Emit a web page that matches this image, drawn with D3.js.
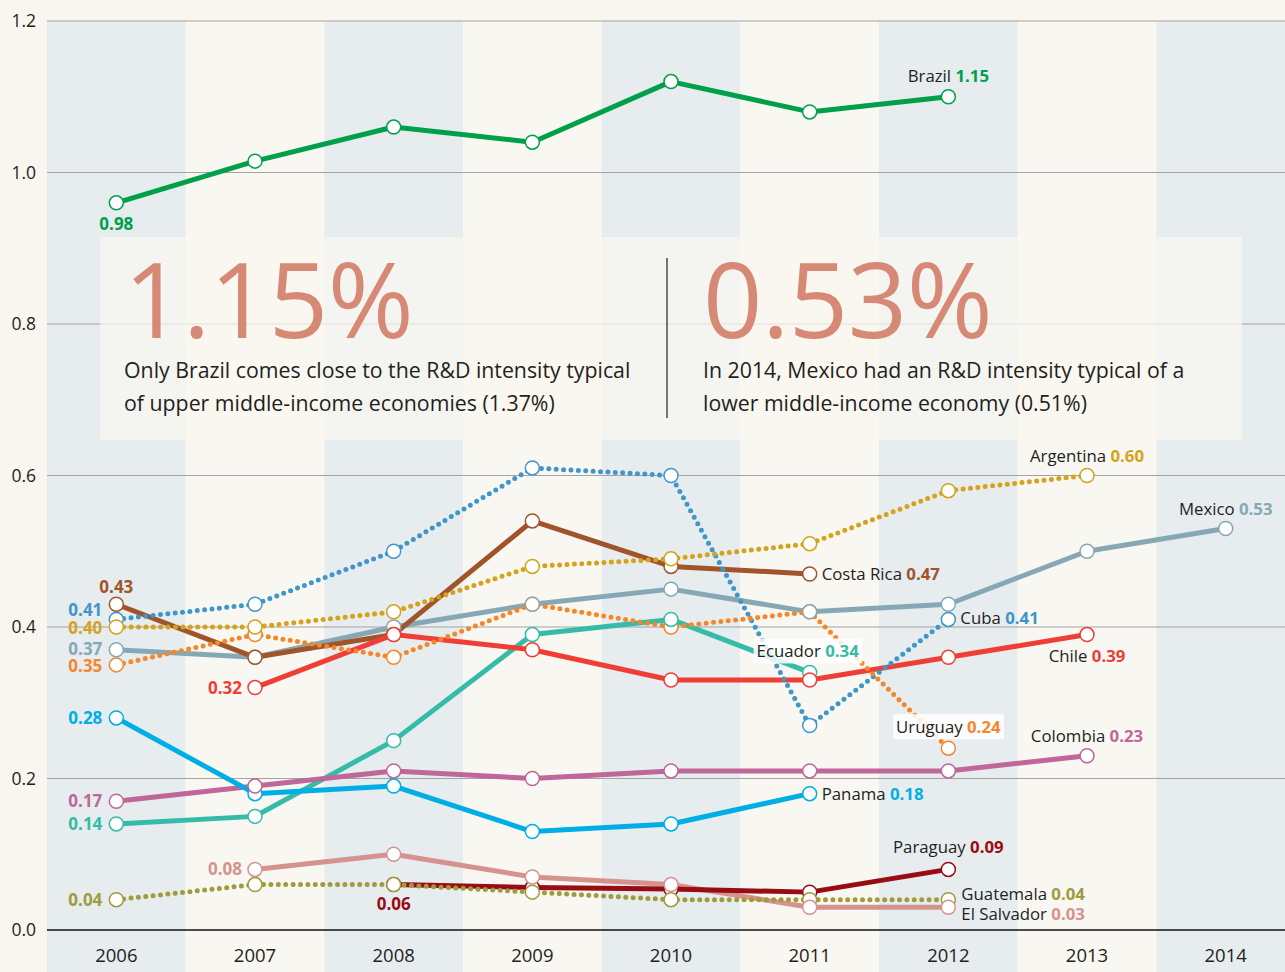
<!DOCTYPE html>
<html>
<head>
<meta charset="utf-8">
<script src="https://cdn.jsdelivr.net/npm/d3@7"></script>
<style>
  html, body { margin: 0; padding: 0; background: #f9f6ef; }
  svg { display: block; font-family: "Open Sans", "Noto Sans", sans-serif; }
</style>
</head>
<body>
<svg id="chart" width="1285" height="972"></svg>
<script>
// ---------- DATA ----------
const years = [2006, 2007, 2008, 2009, 2010, 2011, 2012, 2013, 2014];
const yTicks = [0.0, 0.2, 0.4, 0.6, 0.8, 1.0, 1.2];

const brazil     = [[2006,0.96],[2007,1.015],[2008,1.06],[2009,1.04],[2010,1.12],[2011,1.08],[2012,1.10]];
const cuba       = [[2006,0.41],[2007,0.43],[2008,0.50],[2009,0.61],[2010,0.60],[2011,0.27],[2012,0.41]];
const argentina  = [[2006,0.40],[2007,0.40],[2008,0.42],[2009,0.48],[2010,0.49],[2011,0.51],[2012,0.58],[2013,0.60]];
const uruguay    = [[2006,0.35],[2007,0.39],[2008,0.36],[2009,0.43],[2010,0.40],[2011,0.42],[2012,0.24]];
const costaRica  = [[2006,0.43],[2007,0.36],[2008,0.39],[2009,0.54],[2010,0.48],[2011,0.47]];
const mexico     = [[2006,0.37],[2007,0.36],[2008,0.40],[2009,0.43],[2010,0.45],[2011,0.42],[2012,0.43],[2013,0.50],[2014,0.53]];
const chile      = [[2007,0.32],[2008,0.39],[2009,0.37],[2010,0.33],[2011,0.33],[2012,0.36],[2013,0.39]];
const ecuador    = [[2006,0.14],[2007,0.15],[2008,0.25],[2009,0.39],[2010,0.41],[2011,0.34]];
const panama     = [[2006,0.28],[2007,0.18],[2008,0.19],[2009,0.13],[2010,0.14],[2011,0.18]];
const colombia   = [[2006,0.17],[2007,0.19],[2008,0.21],[2009,0.20],[2010,0.21],[2011,0.21],[2012,0.21],[2013,0.23]];
const elSalvador = [[2007,0.08],[2008,0.10],[2009,0.07],[2010,0.06],[2011,0.03],[2012,0.03]];
const paraguay   = [[2008,0.06],[2009,0.056],[2010,0.054],[2011,0.05],[2012,0.08]];
const guatemala  = [[2006,0.04],[2007,0.06],[2008,0.06],[2009,0.05],[2010,0.04],[2011,0.04],[2012,0.04]];

const series = [
  {name:"Brazil",      values:brazil,     color:"#00a04a", dotted:false, label:"1.15"},
  {name:"Cuba",        values:cuba,       color:"#3f96c9", dotted:true,  label:"0.41"},
  {name:"Argentina",   values:argentina,  color:"#d4a21b", dotted:true,  label:"0.60"},
  {name:"Uruguay",     values:uruguay,    color:"#f5872a", dotted:true,  label:"0.24"},
  {name:"Costa Rica",  values:costaRica,  color:"#a0542a", dotted:false, label:"0.47"},
  {name:"Mexico",      values:mexico,     color:"#86a8b5", dotted:false, label:"0.53"},
  {name:"Chile",       values:chile,      color:"#ef3e36", dotted:false, label:"0.39"},
  {name:"Ecuador",     values:ecuador,    color:"#35bca8", dotted:false, label:"0.34"},
  {name:"Panama",      values:panama,     color:"#00aee6", dotted:false, label:"0.18"},
  {name:"Colombia",    values:colombia,   color:"#be6798", dotted:false, label:"0.23"},
  {name:"El Salvador", values:elSalvador, color:"#d5928e", dotted:false, label:"0.03"},
  {name:"Paraguay",    values:paraguay,   color:"#990c14", dotted:false, label:"0.09"},
  {name:"Guatemala",   values:guatemala,  color:"#9e9c3c", dotted:true,  label:"0.04"}
];
// start-value labels shown in the chart
const startLabels = [
  ["Brazil","0.98"],["Costa Rica","0.43"],["Cuba","0.41"],["Argentina","0.40"],["Mexico","0.37"],
  ["Uruguay","0.35"],["Chile","0.32"],["Panama","0.28"],["Colombia","0.17"],["Ecuador","0.14"],
  ["El Salvador","0.08"],["Paraguay","0.06"],["Guatemala","0.04"]
];
const calloutValues = ["1.15%", "0.53%"];
const calloutTexts = [
  ["Only Brazil comes close to the R&D intensity typical", "of upper middle-income economies (1.37%)"],
  ["In 2014, Mexico had an R&D intensity typical of a", "lower middle-income economy (0.51%)"]
];

// ---------- CHART ----------
const W = 1285, H = 972;
const svg = d3.select("#chart");
const byName = Object.fromEntries(series.map(s => [s.name, s]));

const xBand = d3.scaleBand().domain(years).range([47, 47 + 138.67 * years.length]).padding(0);
const x = yr => xBand(yr) + xBand.bandwidth() / 2;
const y = d3.scaleLinear().domain([0, 1.2]).range([930, 21]);

// background
svg.append("rect").attr("width", W).attr("height", H).attr("fill", "#f9f6ef");

// column bands
svg.append("g").selectAll("rect").data(years).join("rect")
  .attr("x", d => xBand(d)).attr("y", y(1.2))
  .attr("width", xBand.bandwidth()).attr("height", H - y(1.2))
  .attr("fill", (d, i) => i % 2 === 0 ? "#e7ecef" : "#f9f7f1");

// gridlines
svg.append("g").selectAll("line").data(yTicks.filter(t => t > 0)).join("line")
  .attr("x1", 47).attr("x2", W).attr("y1", d => y(d)).attr("y2", d => y(d))
  .attr("stroke", "#a3a3a3").attr("stroke-width", 1);

// y tick labels
svg.append("g").selectAll("text").data(yTicks).join("text")
  .attr("x", 36).attr("y", d => y(d) + 6)
  .attr("text-anchor", "end").attr("font-size", 17.5).attr("fill", "#231f20")
  .text(d => d.toFixed(1));

// baseline axis
svg.append("line").attr("x1", 47).attr("x2", W).attr("y1", y(0)).attr("y2", y(0))
  .attr("stroke", "#111").attr("stroke-width", 1.5);

// x axis labels
const xAxis = d3.axisBottom(xBand).tickSize(0).tickPadding(0);
const gx = svg.append("g").attr("transform", `translate(0, ${y(0)})`).call(xAxis);
gx.select(".domain").remove();
gx.selectAll("text").attr("font-size", 18.5).attr("fill", "#231f20")
  .attr("font-family", "'Open Sans', sans-serif").attr("dy", null).attr("y", 32);

// callout box
const box = svg.append("g");
box.append("rect").attr("x", 100).attr("y", 237).attr("width", 1142).attr("height", 203)
  .attr("fill", "#f9f7f1").attr("opacity", 0.72);
box.append("line").attr("x1", 667).attr("x2", 667).attr("y1", 258).attr("y2", 418)
  .attr("stroke", "#231f20").attr("stroke-width", 1.2);
const calloutX = [124, 703];
calloutValues.forEach((v, i) => {
  box.append("text").attr("x", calloutX[i]).attr("y", 338)
    .attr("font-size", 104).attr("font-weight", 400).attr("fill", "#d68a76")
    .attr("letter-spacing", -0.5).text(v);
  calloutTexts[i].forEach((t, j) => {
    box.append("text").attr("x", calloutX[i]).attr("y", 378 + j * 33)
      .attr("font-size", 21.3).attr("fill", "#231f20").text(t);
  });
});

// lines
const line = d3.line().x(d => x(d[0])).y(d => y(d[1]));
const lineOrder = ["Mexico","Costa Rica","Ecuador","Colombia","Panama","El Salvador","Paraguay","Chile","Brazil",
                   "Cuba","Uruguay","Argentina","Guatemala"];
svg.append("g").selectAll("path").data(lineOrder.map(n => byName[n])).join("path")
  .attr("d", s => line(s.values))
  .attr("fill", "none")
  .attr("stroke", s => s.color)
  .attr("stroke-width", 5)
  .attr("stroke-linecap", "round")
  .attr("stroke-linejoin", "round")
  .attr("stroke-dasharray", s => s.dotted ? "0 7.4" : null);

// markers
const markerOrder = ["Cuba","Uruguay","Mexico","Costa Rica","Argentina","Panama","Colombia","Ecuador",
                     "Chile","Paraguay","Guatemala","El Salvador","Brazil"];
const mg = svg.append("g");
markerOrder.forEach(n => {
  const s = byName[n];
  mg.append("g").selectAll("circle").data(s.values).join("circle")
    .attr("cx", d => x(d[0])).attr("cy", d => y(d[1])).attr("r", 7)
    .attr("fill", "#fff").attr("stroke", s.color).attr("stroke-width", 1.5);
});

// end labels
const endCfg = {
  "Brazil":      {dx: 0,   dy: -15, anchor: "middle"},
  "Argentina":   {dx: 0,   dy: -14, anchor: "middle"},
  "Mexico":      {dx: 0,   dy: -14, anchor: "middle"},
  "Costa Rica":  {dx: 12,  dy: 6,   anchor: "start"},
  "Cuba":        {dx: 12,  dy: 5,   anchor: "start"},
  "Chile":       {dx: 0,   dy: 27,  anchor: "middle"},
  "Ecuador":     {dx: -2,  dy: -15, anchor: "middle", bg: true},
  "Uruguay":     {dx: 0,   dy: -15, anchor: "middle", bg: true},
  "Colombia":    {dx: 0,   dy: -14, anchor: "middle"},
  "Panama":      {dx: 12,  dy: 6,   anchor: "start"},
  "Paraguay":    {dx: 0,   dy: -16, anchor: "middle"},
  "Guatemala":   {dx: 13,  dy: 0,   anchor: "start"},
  "El Salvador": {dx: 13,  dy: 13,  anchor: "start"}
};
const lg = svg.append("g").attr("font-size", 16.8);
series.forEach(s => {
  const c = endCfg[s.name];
  const last = s.values[s.values.length - 1];
  const px = x(last[0]) + c.dx, py = y(last[1]) + c.dy;
  const g = lg.append("g");
  const bgRect = c.bg ? g.append("rect").attr("fill", "#fff").attr("opacity", 0.85) : null;
  const t = g.append("text").attr("x", px).attr("y", py).attr("text-anchor", c.anchor).attr("fill", "#231f20");
  t.append("tspan").text(s.name + " ");
  t.append("tspan").attr("font-weight", 700).attr("fill", s.color).text(s.label);
  if (bgRect) {
    const bb = t.node().getBBox();
    bgRect.attr("x", bb.x - 3).attr("y", bb.y - 1).attr("width", bb.width + 6).attr("height", bb.height + 2);
  }
});

// start labels
const startCfg = {
  "Brazil":      {dx: 0,   dy: 27, anchor: "middle"},
  "Costa Rica":  {dx: 0,   dy: -11, anchor: "middle"},
  "Cuba":        {dx: -14, dy: -3, anchor: "end"},
  "Argentina":   {dx: -14, dy: 7,  anchor: "end"},
  "Mexico":      {dx: -14, dy: 5,  anchor: "end"},
  "Uruguay":     {dx: -14, dy: 7,  anchor: "end"},
  "Paraguay":    {dx: 0,   dy: 25, anchor: "middle"},
  "Chile":       {dx: -13, dy: 6,  anchor: "end"},
  "El Salvador": {dx: -13, dy: 6,  anchor: "end"}
};
startLabels.forEach(([n, txt]) => {
  const s = byName[n];
  const first = s.values[0];
  const c = startCfg[n] || {dx: -14, dy: 6, anchor: "end"};
  lg.append("text").attr("x", x(first[0]) + c.dx).attr("y", y(first[1]) + c.dy)
    .attr("text-anchor", c.anchor).attr("font-weight", 700).attr("font-size", 17)
    .attr("fill", s.color).text(txt);
});
</script>
</body>
</html>
